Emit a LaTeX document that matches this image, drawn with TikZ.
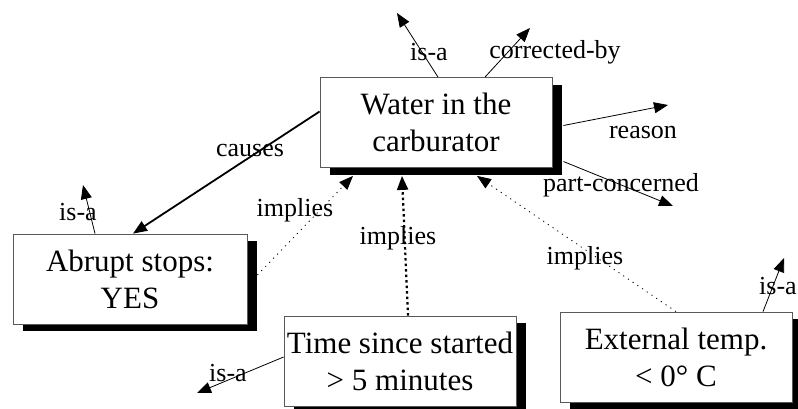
\documentclass[tikz,border=0pt]{standalone}
\usepackage{fontspec}
\setmainfont{Liberation Serif}
\usetikzlibrary{arrows.meta, shadows, positioning}

\tikzset{
  frame/.style={draw=gray!70!black, fill=white, line width=0.8pt,
    minimum width=232pt, minimum height=90pt, inner sep=0pt, align=center,
    font=\fontsize{31}{37}\selectfont,
    drop shadow={shadow xshift=10pt, shadow yshift=-7pt, fill=black, opacity=1}},
  rel/.style={-{Triangle[length=14pt,width=11pt]}, line width=0.8pt},
  imp/.style={rel, dash pattern=on 1.2pt off 4.5pt},
  lbl/.style={font=\fontsize{26}{30}\selectfont, inner sep=0pt},
}

\begin{document}
\begin{tikzpicture}[x=1pt, y=-1pt]
    \useasboundingbox (0,0) rectangle (798,408);

    % frames
    \node[frame] (water) at (436,122.5) {Water in the\\carburator};
    \node[frame, minimum width=234pt] (abrupt) at (130,279) {Abrupt stops:\\YES};
    \node[frame] (time) at (400,361) {Time since started\\\textgreater{} 5 minutes};
    \node[frame] (ext) at (676,357) {External temp.\\\textless{} 0\textdegree{} C};

    % free ends
    \coordinate (wisa) at (397,13);
    \coordinate (wcorr) at (530,28);
    \coordinate (wreason) at (668,105);
    \coordinate (wpart) at (673,206);
    \coordinate (aisa) at (83,185);
    \coordinate (tisa) at (197,393);
    \coordinate (eisa) at (784,258);

    % slots
    \draw[rel] ([xshift=2pt]water.north) -- (wisa);
    \draw[rel] ([xshift=49pt]water.north) -- (wcorr);
    \draw[rel] ([xshift=11pt,yshift=-3pt]water.east) -- (wreason);
    \draw[rel] ([xshift=11pt,yshift=-39pt]water.east) -- (wpart);
    \draw[rel] ([xshift=-35pt]abrupt.north) -- (aisa);
    \draw[rel] ([yshift=4pt]time.west) -- (tisa);
    \draw[rel] ([xshift=87pt]ext.north) -- (eisa);

    % causes / implies
    \draw[rel, line width=1.8pt] ([yshift=11pt]water.west) -- ([xshift=3pt]abrupt.north);
    \draw[imp] ([xshift=10pt,yshift=4pt]abrupt.east) -- ([xshift=-83pt,yshift=-8pt]water.south);
    \draw[imp, line width=2.2pt, dash pattern=on 2.5pt off 3pt] ([xshift=8pt]time.north) -- ([xshift=-34pt,yshift=-8pt]water.south);
    \draw[imp] (ext.north) -- ([xshift=41pt,yshift=-8pt]water.south);

    % labels
    \node[lbl] (l1) at (429,52) {is-a};
    \node[lbl] (l2) at (555,52) {corrected-by};
    \node[lbl] (l3) at (643,132) {reason};
    \node[lbl] (l4) at (621,185) {part-concerned};
    \node[lbl] (l5) at (250,150) {causes};
    \node[lbl] (l6) at (78,212) {is-a};
    \node[lbl] (l7) at (295,210) {implies};
    \node[lbl] (l8) at (398,238) {implies};
    \node[lbl] (l9) at (585,258) {implies};
    \node[lbl] (l10) at (778,286) {is-a};
    \node[lbl] (l11) at (228,373) {is-a};
\end{tikzpicture}
\end{document}
